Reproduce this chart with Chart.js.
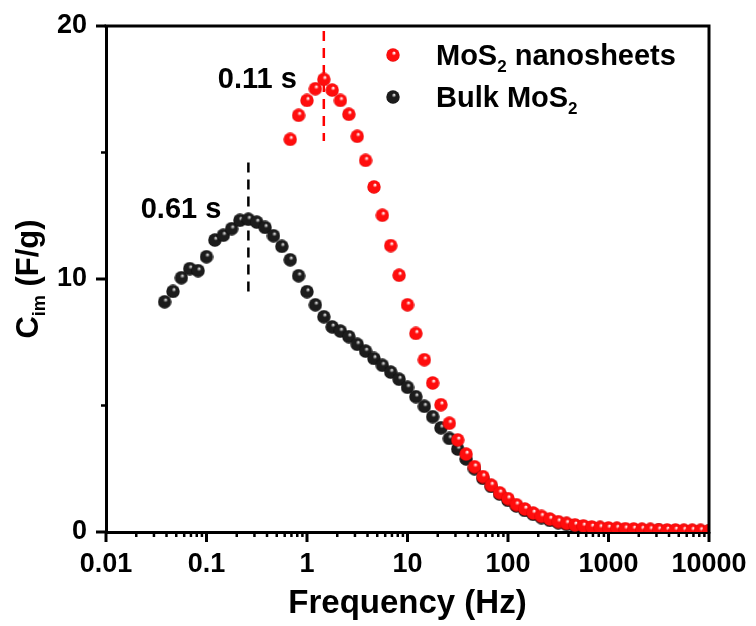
<!DOCTYPE html>
<html>
<head>
<meta charset="utf-8">
<script src="https://cdn.jsdelivr.net/npm/chart.js@4"></script>
<style>
  html, body { margin: 0; padding: 0; background: #fff; }
  canvas { display: block; }
</style>
</head>
<body>
<canvas id="chart" width="756" height="626"></canvas>
<script>
const FONT = '"Liberation Sans", Arial, sans-serif';

// measured frequencies (Hz), 12 points per decade
const frequencies = [
  0.0383, 0.0464, 0.0562, 0.0681, 0.0825,
  0.1, 0.121, 0.147, 0.178, 0.215, 0.261, 0.316, 0.383, 0.464, 0.562, 0.681, 0.825,
  1, 1.21, 1.47, 1.78, 2.15, 2.61, 3.16, 3.83, 4.64, 5.62, 6.81, 8.25,
  10, 12.1, 14.7, 17.8, 21.5, 26.1, 31.6, 38.3, 46.4, 56.2, 68.1, 82.5,
  100, 121, 147, 178, 215, 261, 316, 383, 464, 562, 681, 825,
  1000, 1210, 1470, 1780, 2150, 2610, 3160, 3830, 4640, 5620, 6810, 8250,
  10000
];

// nanosheets start at 0.681 Hz
const nanoFrequencies = frequencies.slice(15);
const nanoCapacitance = [
  15.52, 16.47, 17.06, 17.52, 17.89, 17.47, 17.06, 16.51, 15.64, 14.69,
  13.64, 12.52, 11.32, 10.15, 8.98, 7.85, 6.81, 5.89, 5.03, 4.30,
  3.64, 3.08, 2.58, 2.19, 1.85, 1.55, 1.32, 1.08, 0.91, 0.75,
  0.62, 0.51, 0.41, 0.34, 0.28, 0.24, 0.20, 0.18, 0.16, 0.15,
  0.13, 0.12, 0.11, 0.10, 0.09, 0.08, 0.08, 0.07, 0.07, 0.06,
  0.05
];

const bulkFrequencies = frequencies;
const bulkCapacitance = [
  9.10, 9.51, 10.05, 10.41, 10.33, 10.88, 11.54, 11.73, 11.99, 12.32,
  12.36, 12.25, 12.04, 11.71, 11.29, 10.76, 10.13, 9.50, 8.98, 8.51,
  8.11, 7.94, 7.72, 7.42, 7.15, 6.86, 6.59, 6.32, 6.04, 5.72,
  5.35, 4.97, 4.56, 4.12, 3.70, 3.28, 2.89, 2.50, 2.12, 1.80,
  1.50, 1.25, 1.03, 0.85, 0.70, 0.57, 0.46, 0.37, 0.30, 0.25,
  0.21, 0.17, 0.14, 0.12, 0.10, 0.09, 0.08, 0.07, 0.06, 0.06,
  0.05, 0.05, 0.04, 0.04, 0.04, 0.03
];

const xTickValues = [0.01, 0.1, 1, 10, 100, 1000, 10000];
const xTickLabels = ['0.01', '0.1', '1', '10', '100', '1000', '10000'];
const yTickValues = [0, 10, 20];
const yTickLabels = ['0', '10', '20'];
const yMinorTicks = [5, 15];

// relaxation-time markers
const markerFreqs = [1.47, 0.261];
const markerTops = [19.8, 14.6];
const markerBottoms = [15.45, 9.25];
const markerLabels = ['0.11 s', '0.61 s'];
const markerLabelY = [17.55, 12.4];
const markerColors = ['#ff0000', '#000000'];

function makeSphere(light, base, dark) {
  const c = document.createElement('canvas');
  c.width = 14;
  c.height = 14;
  const g = c.getContext('2d');
  const grad = g.createRadialGradient(8.2, 4.8, 0.4, 7, 7, 7);
  grad.addColorStop(0, light);
  grad.addColorStop(0.28, base);
  grad.addColorStop(0.85, base);
  grad.addColorStop(1, dark);
  g.fillStyle = grad;
  g.beginPath();
  g.arc(7, 7, 6.7, 0, Math.PI * 2);
  g.fill();
  return c;
}

const redSphere = makeSphere('#ffffff', '#ff0d0d', '#d40000');
const blackSphere = makeSphere('#e0e0e0', '#1c1c1c', '#000000');

function toPoints(xs, ys) {
  return xs.map((x, i) => ({ x, y: ys[i] }));
}

const decorPlugin = {
  id: 'decor',
  beforeDatasetsDraw(chart) {
    const { ctx, scales: { x, y } } = chart;
    ctx.save();
    markerFreqs.forEach((f, i) => {
      const px = x.getPixelForValue(f);
      ctx.strokeStyle = markerColors[i];
      ctx.lineWidth = 2.5;
      ctx.setLineDash([10, 7]);
      ctx.beginPath();
      ctx.moveTo(px, y.getPixelForValue(markerTops[i]));
      ctx.lineTo(px, y.getPixelForValue(markerBottoms[i]));
      ctx.stroke();

      ctx.setLineDash([]);
      ctx.fillStyle = '#000';
      ctx.font = `bold 29px ${FONT}`;
      ctx.textAlign = 'right';
      ctx.textBaseline = 'alphabetic';
      ctx.fillText(markerLabels[i], px - 27, y.getPixelForValue(markerLabelY[i]));
    });
    ctx.restore();
  },
  afterDraw(chart) {
    const { ctx, chartArea: a, scales: { x, y } } = chart;
    ctx.save();
    ctx.strokeStyle = '#000';
    ctx.lineCap = 'butt';

    // top and right frame
    ctx.lineWidth = 3;
    ctx.beginPath();
    ctx.moveTo(a.left - 1.5, a.top);
    ctx.lineTo(a.right, a.top);
    ctx.lineTo(a.right, a.bottom + 1.5);
    ctx.stroke();

    // x ticks: major at decades, minor at 2..9
    for (let d = -2; d <= 4; d++) {
      const base = Math.pow(10, d);
      const px = x.getPixelForValue(base);
      ctx.lineWidth = 3;
      ctx.beginPath();
      ctx.moveTo(px, a.bottom);
      ctx.lineTo(px, a.bottom + 10);
      ctx.stroke();
      if (d === 4) continue;
      ctx.lineWidth = 2.5;
      for (let m = 2; m <= 9; m++) {
        const mx = x.getPixelForValue(base * m);
        ctx.beginPath();
        ctx.moveTo(mx, a.bottom);
        ctx.lineTo(mx, a.bottom + 5);
        ctx.stroke();
      }
    }

    // y ticks
    yTickValues.forEach((v) => {
      const py = y.getPixelForValue(v);
      ctx.lineWidth = 3;
      ctx.beginPath();
      ctx.moveTo(a.left, py);
      ctx.lineTo(a.left - 10, py);
      ctx.stroke();
    });
    yMinorTicks.forEach((v) => {
      const py = y.getPixelForValue(v);
      ctx.lineWidth = 2.5;
      ctx.beginPath();
      ctx.moveTo(a.left, py);
      ctx.lineTo(a.left - 5, py);
      ctx.stroke();
    });

    ctx.fillStyle = '#000';

    // x title
    ctx.font = `bold 33px ${FONT}`;
    ctx.textAlign = 'center';
    ctx.textBaseline = 'middle';
    ctx.fillText('Frequency (Hz)', (a.left + a.right) / 2, 604);

    // y title with subscript
    ctx.save();
    ctx.translate(38, (a.top + a.bottom) / 2);
    ctx.rotate(-Math.PI / 2);
    ctx.textBaseline = 'alphabetic';
    ctx.textAlign = 'left';
    const big = `bold 31px ${FONT}`;
    const small = `bold 18px ${FONT}`;
    ctx.font = big;
    const wC = ctx.measureText('C').width;
    const wRest = ctx.measureText(' (F/g)').width;
    ctx.font = small;
    const wSub = ctx.measureText('im').width;
    let tx = -(wC + wSub + wRest) / 2;
    ctx.font = big;
    ctx.fillText('C', tx, 0);
    tx += wC;
    ctx.font = small;
    ctx.fillText('im', tx, 7);
    tx += wSub;
    ctx.font = big;
    ctx.fillText(' (F/g)', tx, 0);
    ctx.restore();

    // legend
    const entries = [
      { img: redSphere, parts: [['MoS', 0], ['2', 1], [' nanosheets', 0]] },
      { img: blackSphere, parts: [['Bulk MoS', 0], ['2', 1]] }
    ];
    entries.forEach((e, i) => {
      const cy = 55 + i * 42;
      ctx.drawImage(e.img, 393 - 7, cy - 7);
      let lx = 436;
      ctx.textAlign = 'left';
      ctx.textBaseline = 'alphabetic';
      e.parts.forEach(([txt, sub]) => {
        ctx.font = sub ? `bold 17px ${FONT}` : `bold 29px ${FONT}`;
        ctx.fillText(txt, lx, cy + 10 + (sub ? 7 : 0));
        lx += ctx.measureText(txt).width;
      });
    });

    ctx.restore();
  }
};

new Chart(document.getElementById('chart'), {
  type: 'scatter',
  data: {
    datasets: [
      {
        label: 'MoS2 nanosheets',
        data: toPoints(nanoFrequencies, nanoCapacitance),
        pointStyle: redSphere,
        pointRadius: 7,
        showLine: false
      },
      {
        label: 'Bulk MoS2',
        data: toPoints(bulkFrequencies, bulkCapacitance),
        pointStyle: blackSphere,
        pointRadius: 7,
        showLine: false
      }
    ]
  },
  options: {
    responsive: false,
    animation: false,
    devicePixelRatio: 1,
    layout: { padding: { left: 0, right: 47, top: 26, bottom: 0 } },
    plugins: {
      legend: { display: false },
      tooltip: { enabled: false }
    },
    scales: {
      x: {
        type: 'logarithmic',
        position: 'bottom',
        min: 0.01,
        max: 10000,
        grid: { display: false, drawTicks: false },
        border: { display: true, color: '#000', width: 3 },
        afterBuildTicks(scale) {
          scale.ticks = xTickValues.map((value) => ({ value }));
        },
        afterFit(scale) {
          scale.height = 94;
          scale.paddingLeft = 0;
          scale.paddingRight = 0;
        },
        ticks: {
          color: '#000',
          padding: 16,
          maxRotation: 0,
          autoSkip: false,
          font: { family: FONT, size: 27, weight: 'bold' },
          callback: (value, index) => xTickLabels[index]
        }
      },
      y: {
        type: 'linear',
        min: 0,
        max: 20,
        grid: { display: false, drawTicks: false },
        border: { display: true, color: '#000', width: 3 },
        afterBuildTicks(scale) {
          scale.ticks = yTickValues.map((value) => ({ value }));
        },
        afterFit(scale) {
          scale.width = 106;
          scale.paddingTop = 0;
          scale.paddingBottom = 0;
        },
        ticks: {
          color: '#000',
          padding: 19,
          font: { family: FONT, size: 27, weight: 'bold' },
          callback: (value, index) => yTickLabels[index]
        }
      }
    }
  },
  plugins: [decorPlugin]
});
</script>
</body>
</html>
